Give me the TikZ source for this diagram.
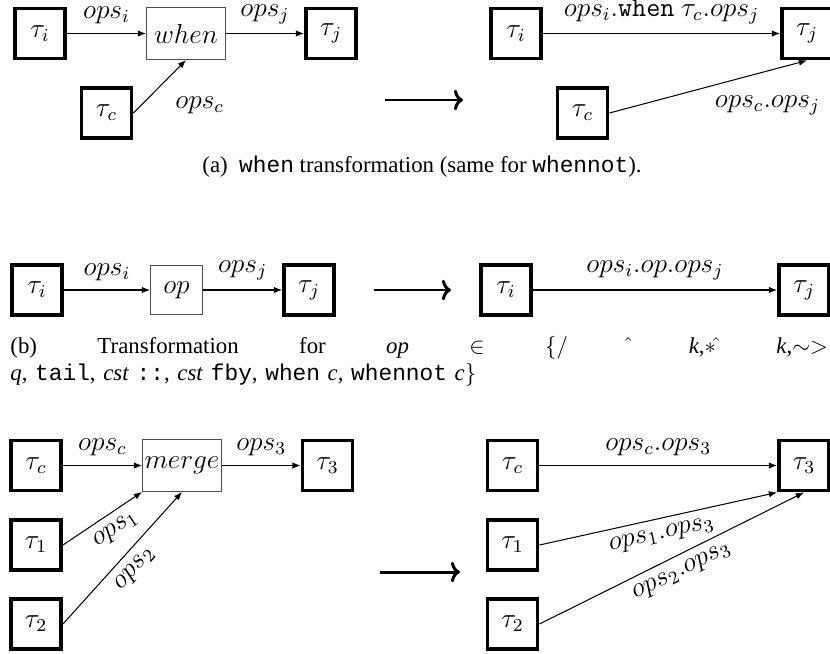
\documentclass[tikz,border=0pt]{standalone}
\usepackage{amsmath,amssymb}
\usepackage{fontspec}
\setmainfont{Liberation Serif}
\newfontfamily\courier{Liberation Mono}
\usetikzlibrary{arrows.meta}

\begin{document}
\begin{tikzpicture}[
    x=0.438pt, y=-0.438pt,
    >={Latex[length=3.6pt, width=2.8pt]},
    every node/.style={font=\large},
    tbox/.style={
        rectangle, draw, line width=1.6pt,
        minimum size=22pt, inner sep=0pt
    },
    opbox/.style={
        rectangle, draw=black!70, line width=0.6pt,
        minimum width=34.4pt, minimum height=22.6pt, inner sep=0pt
    },
    elabel/.style={inner sep=1.5pt},
    flow/.style={->, line width=0.45pt},
    bigarrow/.style={-{To[length=4pt, width=9pt]}, line width=1.3pt},
    caption/.style={font=\normalsize, inner sep=0pt},
]

\useasboundingbox (0,0) rectangle (830,653);

%% ============ (a) WHEN ============

\node[tbox] (a_in) at (40,33.5) {$\tau_i$};
\node[opbox] (a_when) at (186,33.5) {$when$};
\node[tbox] (a_out) at (331,33.5) {$\tau_j$};
\node[tbox] (a_clk) at (106.5,113) {$\tau_c$};

\draw[flow] (a_in) -- node[elabel, above=2.5pt] {$ops_i$} (a_when);
\draw[flow] (a_when) -- node[elabel, above=2.5pt] {$ops_j$} (a_out);
\draw[flow] (a_clk.east) -- node[elabel, pos=0.55, below right=4pt] {$ops_c$} (a_when.south);

% rewrite arrow
\coordinate (a_from) at (385,100);
\coordinate (a_to) at (463,100);
\draw[bigarrow] (a_from) -- (a_to);

\node[tbox] (a_in2) at (516,33.5) {$\tau_i$};
\node[tbox] (a_out2) at (807,33.5) {$\tau_j$};
\node[tbox] (a_clk2) at (582.5,113) {$\tau_c$};

\draw[flow] (a_in2) -- node[elabel, above=2.5pt] {$ops_i.\texttt{when}\ \tau_c.ops_j$} (a_out2);
\draw[flow] (a_clk2.east) -- node[elabel, pos=0.8, below=9pt] {$ops_c.ops_j$} (a_out2.south);

\node[caption] (cap_a) at (422,167)
    {(a)\enspace{\courier when} transformation (same for {\courier whennot}).};

%% ============ (b) UNARY OPERATORS ============

\node[tbox] (b_in) at (37,290) {$\tau_i$};
\node[opbox, minimum width=22.6pt, minimum height=21.3pt] (b_op) at (176.5,290) {$op$};
\node[tbox] (b_out) at (309,290) {$\tau_j$};

\draw[flow] (b_in) -- node[elabel, above=2.5pt] {$ops_i$} (b_op);
\draw[flow] (b_op) -- node[elabel, above=2.5pt] {$ops_j$} (b_out);

\coordinate (b_from) at (374,290);
\coordinate (b_to) at (451,290);
\draw[bigarrow] (b_from) -- (b_to);

\node[tbox] (b_in2) at (506,290) {$\tau_i$};
\node[tbox] (b_out2) at (804,290) {$\tau_j$};

\draw[flow] (b_in2) -- node[elabel, above=2.5pt] {$ops_i.op.ops_j$} (b_out2);

\node[caption, anchor=north west, text width=358pt, align=left] (cap_b) at (10,336) {%
    \hbox to \hsize{(b)\hfill Transformation\hfill for\hfill \textit{op}\hfill $\in$\hfill
    $\{/$\hfill $\hat{}$\hfill \textit{k},$*\hat{}$\hfill \textit{k},$\sim>$}
    \textit{q}, {\courier tail}, \textit{cst} {\courier ::}, \textit{cst} {\courier fby},
    {\courier when} \textit{c}, {\courier whennot} \textit{c}$\}$%
};

%% ============ (c) MERGE ============

\node[tbox] (c_clk) at (36,465.5) {$\tau_c$};
\node[opbox] (c_merge) at (182,465.5) {$merge$};
\node[tbox] (c_out) at (327.5,465.5) {$\tau_3$};
\node[tbox] (c_one) at (36,545) {$\tau_1$};
\node[tbox] (c_two) at (36,624) {$\tau_2$};

\draw[flow] (c_clk) -- node[elabel, above=2.5pt] {$ops_c$} (c_merge);
\draw[flow] (c_merge) -- node[elabel, above=2.5pt] {$ops_3$} (c_out);
\draw[flow] (c_one.east) -- node[elabel, sloped, below=2pt, pos=0.55] {$ops_1$} (c_merge.south west);
\draw[flow] (c_two.east) -- node[elabel, sloped, below=2pt, pos=0.5] {$ops_2$} (c_merge.south);

\coordinate (c_from) at (380,572);
\coordinate (c_to) at (460,572);
\draw[bigarrow] (c_from) -- (c_to);

\node[tbox] (c_clk2) at (512.5,465.5) {$\tau_c$};
\node[tbox] (c_out2) at (804,465.5) {$\tau_3$};
\node[tbox] (c_one2) at (512.5,545) {$\tau_1$};
\node[tbox] (c_two2) at (512.5,624) {$\tau_2$};

\draw[flow] (c_clk2) -- node[elabel, above=2.5pt] {$ops_c.ops_3$} (c_out2);
\draw[flow] (c_one2.east) -- node[elabel, sloped, below=2pt, pos=0.5] {$ops_1.ops_3$} (c_out2.south west);
\draw[flow] (c_two2.east) -- node[elabel, sloped, below=2pt, pos=0.51] {$ops_2.ops_3$} (c_out2.south);

\end{tikzpicture}
\end{document}
